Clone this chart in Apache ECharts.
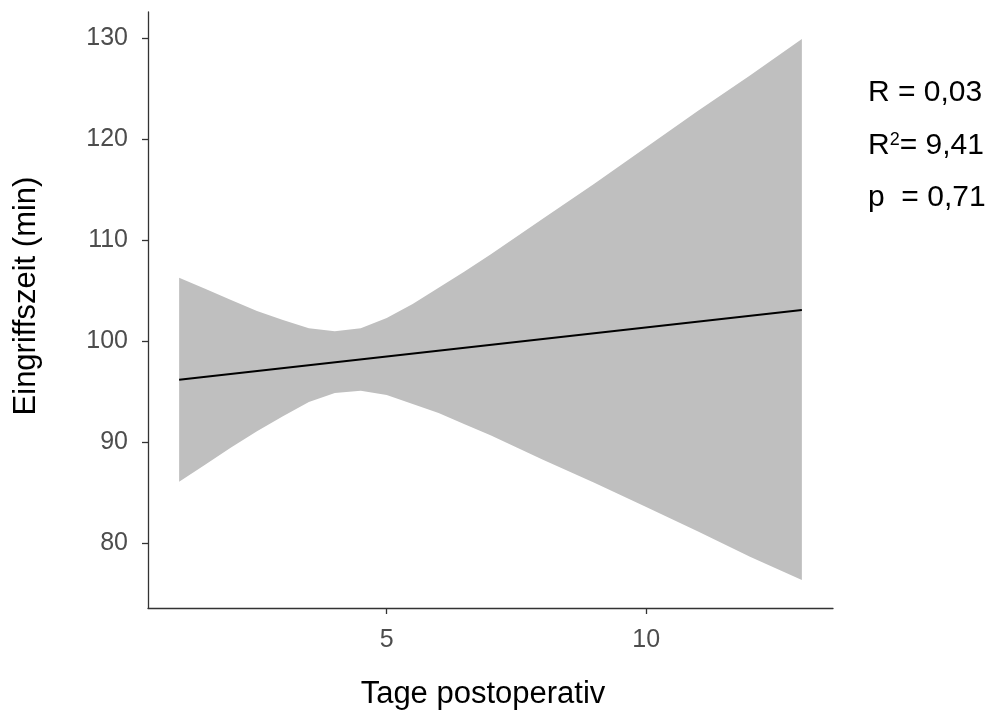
<!DOCTYPE html>
<html>
<head>
<meta charset="utf-8">
<script src="https://cdn.jsdelivr.net/npm/echarts@6/dist/echarts.min.js"></script>
<style>
  html, body { margin: 0; padding: 0; background: #fff; }
  #chart { width: 998px; height: 713px; }
</style>
</head>
<body>
<div id="chart"></div>
<script>
var myChart = echarts.init(document.getElementById('chart'));

// Konfidenzband (Tage postoperativ -> Eingriffszeit)
var days  = [1, 1.5, 2, 2.5, 3, 3.5, 4, 4.5, 5, 5.5, 6, 6.5, 7, 8, 9, 10, 11, 12, 13];
var upper = [106.3, 105.2, 104.1, 103.0, 102.1, 101.3, 101.0, 101.3, 102.3, 103.7, 105.3, 106.9, 108.6, 112.1, 115.6, 119.2, 122.8, 126.3, 129.9];
var lower = [86.1, 87.8, 89.5, 91.1, 92.6, 94.0, 94.9, 95.1, 94.7, 93.8, 92.9, 91.8, 90.7, 88.3, 86.0, 83.6, 81.2, 78.7, 76.4];

// Regressionsgerade
var fitDays = [1, 13];
var fitTime = [96.2, 103.1];

var xTicks = [5, 10];
var yTicks = [80, 90, 100, 110, 120, 130];

var statR  = 'R = 0,03';
var statR2 = '= 9,41';
var statP  = 'p  = 0,71';

var FONT = "'Liberation Sans', Arial, sans-serif";
var AXIS_COLOR = '#333333';

var bandRows = [];
for (var i = 0; i < days.length; i++) {
    bandRows.push([days[i], lower[i], upper[i]]);
}
var fitData = [];
for (var k = 0; k < fitDays.length; k++) {
    fitData.push([fitDays[k], fitTime[k]]);
}

var option = {
    animation: false,
    textStyle: { fontFamily: FONT },
    grid: { left: 148, right: 165, top: 12, bottom: 105 },
    xAxis: {
        type: 'value',
        min: 0.4,
        max: 13.6,
        splitLine: { show: false },
        axisLine: { onZero: false, lineStyle: { color: AXIS_COLOR, width: 1.3 } },
        axisTick: { customValues: xTicks, length: 6, lineStyle: { color: AXIS_COLOR, width: 1.3 } },
        axisLabel: { customValues: xTicks, fontSize: 25, color: '#4d4d4d', margin: 20, fontFamily: FONT }
    },
    yAxis: {
        type: 'value',
        min: 73.62,
        max: 132.58,
        splitLine: { show: false },
        axisLine: { show: true, onZero: false, lineStyle: { color: AXIS_COLOR, width: 1.3 } },
        axisTick: { show: true, customValues: yTicks, length: 6, lineStyle: { color: AXIS_COLOR, width: 1.3 } },
        axisLabel: { customValues: yTicks, fontSize: 25, color: '#4d4d4d', margin: 20, fontFamily: FONT }
    },
    series: [{
        name: 'band',
        type: 'custom',
        silent: true,
        data: [bandRows[0]],
        encode: { x: 0, y: 1 },
        renderItem: function (params, api) {
            var pts = [];
            for (var i = 0; i < bandRows.length; i++) {
                pts.push(api.coord([bandRows[i][0], bandRows[i][2]]));
            }
            for (var j = bandRows.length - 1; j >= 0; j--) {
                pts.push(api.coord([bandRows[j][0], bandRows[j][1]]));
            }
            return {
                type: 'polygon',
                shape: { points: pts },
                style: { fill: '#bfbfbf', stroke: null }
            };
        },
        z: 1
    }, {
        name: 'fit',
        type: 'line',
        data: fitData,
        symbol: 'none',
        silent: true,
        lineStyle: { color: '#000', width: 1.9 },
        z: 2
    }],
    graphic: [{
        type: 'text',
        x: 483, y: 694,
        style: { text: 'Tage postoperativ', fontSize: 31, fontFamily: FONT, fill: '#000', align: 'center', verticalAlign: 'middle' }
    }, {
        type: 'text',
        x: 26.5, y: 296,
        rotation: Math.PI / 2,
        style: { text: 'Eingriffszeit (min)', fontSize: 31, fontFamily: FONT, fill: '#000', align: 'center', verticalAlign: 'middle' }
    }, {
        type: 'text',
        x: 868, y: 93,
        style: { text: statR, fontSize: 30, fontFamily: FONT, fill: '#000', align: 'left', verticalAlign: 'middle' }
    }, {
        type: 'text',
        x: 868, y: 146,
        style: {
            text: '{b|R}{s|2}{b|' + statR2 + '}',
            fontFamily: FONT, fill: '#000', align: 'left', verticalAlign: 'middle',
            rich: {
                b: { fontSize: 30, fontFamily: FONT, fill: '#000' },
                s: { fontSize: 18, fontFamily: FONT, fill: '#000', verticalAlign: 'top' }
            }
        }
    }, {
        type: 'text',
        x: 868, y: 198,
        style: { text: statP, fontSize: 30, fontFamily: FONT, fill: '#000', align: 'left', verticalAlign: 'middle' }
    }]
};
myChart.setOption(option);
window.onresize = function () {
    myChart.resize();
};
</script>
</body>
</html>
